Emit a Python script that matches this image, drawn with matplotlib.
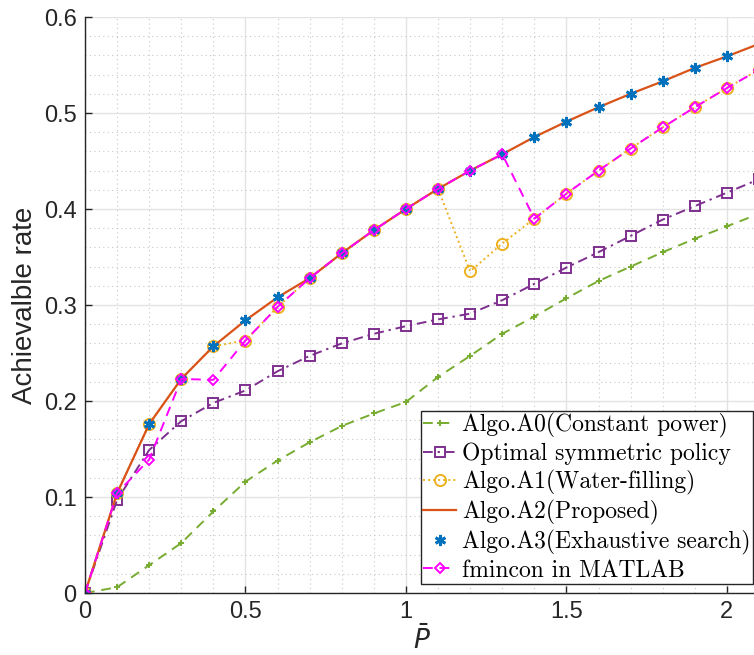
import matplotlib
matplotlib.use("Agg")
import matplotlib.pyplot as plt
from matplotlib.ticker import MultipleLocator
import numpy as np

# transmit power budget
p_bar = [0.0, 0.1, 0.2, 0.3, 0.4, 0.5, 0.6, 0.7, 0.8, 0.9, 1.0,
         1.1, 1.2, 1.3, 1.4, 1.5, 1.6, 1.7, 1.8, 1.9, 2.0, 2.1]

rate_a0 = [0.000, 0.006, 0.029, 0.052, 0.085, 0.116, 0.138, 0.157, 0.174, 0.187, 0.199,
           0.225, 0.247, 0.270, 0.288, 0.307, 0.325, 0.340, 0.355, 0.369, 0.382, 0.395]
rate_sym = [0.000, 0.097, 0.149, 0.179, 0.198, 0.211, 0.231, 0.247, 0.260, 0.270, 0.278,
            0.285, 0.291, 0.305, 0.322, 0.339, 0.355, 0.372, 0.389, 0.403, 0.417, 0.431]
rate_a1 = [0.000, 0.104, 0.176, 0.223, 0.257, 0.263, 0.298, 0.328, 0.354, 0.378, 0.400,
           0.421, 0.335, 0.364, 0.390, 0.416, 0.440, 0.463, 0.485, 0.506, 0.526, 0.545]
rate_a2 = [0.000, 0.104, 0.176, 0.223, 0.257, 0.284, 0.308, 0.328, 0.354, 0.378, 0.400,
           0.421, 0.440, 0.457, 0.475, 0.491, 0.506, 0.520, 0.533, 0.547, 0.559, 0.572]
rate_a3 = rate_a2
rate_fmin = [0.000, 0.104, 0.139, 0.223, 0.222, 0.263, 0.298, 0.328, 0.354, 0.378, 0.400,
             0.421, 0.440, 0.457, 0.390, 0.416, 0.440, 0.463, 0.485, 0.506, 0.526, 0.545]

labels = [
    "Algo.A0(Constant power)",
    "Optimal symmetric policy",
    "Algo.A1(Water-filling)",
    "Algo.A2(Proposed)",
    "Algo.A3(Exhaustive search)",
    "fmincon in MATLAB",
]

W, H = 754, 655
fig = plt.figure(figsize=(W / 100, H / 100), dpi=100)
ax = fig.add_axes([85 / W, (H - 593) / H, (759 - 85) / W, (593 - 17) / H])

ax.plot(p_bar, rate_a0, color="#77AC30", ls=(0, (5, 3.5)), lw=1.4, marker="+",
        ms=5, mew=1.4, label=labels[0])
ax.plot(p_bar, rate_sym, color="#7E2F8E", ls=(0, (5, 2.5, 1.2, 2.5)), lw=1.4,
        marker="s", ms=7, mfc="none", mew=1.4, label=labels[1])
ax.plot(p_bar, rate_a1, color="#EDB120", ls=(0, (1, 1.6)), lw=1.4, marker="o",
        ms=8, mfc="none", mew=1.4, label=labels[2])
ax.plot(p_bar, rate_a2, color="#D95319", ls="-", lw=1.6, label=labels[3])
ax.plot(p_bar, rate_a3, color="#0072BD", ls="none", marker=(6, 2, 0),
        ms=8, mew=2.0, label=labels[4])
ax.plot(p_bar, rate_fmin, color="#FF00FF", ls=(0, (5, 3.5)), lw=1.4, marker="D",
        ms=5, mfc="none", mew=1.4, label=labels[5])

ax.set_xlim(0, 2.1)
ax.set_ylim(0, 0.6)
ax.xaxis.set_minor_locator(MultipleLocator(0.1))
ax.yaxis.set_minor_locator(MultipleLocator(0.02))
ax.set_xticks([0, 0.5, 1, 1.5, 2], ["0", "0.5", "1", "1.5", "2"])
ax.set_yticks([0, 0.1, 0.2, 0.3, 0.4, 0.5, 0.6],
              ["0", "0.1", "0.2", "0.3", "0.4", "0.5", "0.6"])

ax.grid(which="major", color="#e3e3e3", lw=1.0, ls="-")
ax.grid(which="minor", color="#c8c8c8", lw=0.8, ls=(0, (1, 3)))
ax.set_axisbelow(True)

for s in ["top", "right"]:
    ax.spines[s].set_visible(False)
for s in ["left", "bottom"]:
    ax.spines[s].set_color("#262626")
    ax.spines[s].set_linewidth(1.0)
ax.tick_params(which="major", direction="in", length=5, width=1.0,
               color="#262626", labelsize=17, labelcolor="#262626", pad=6)
ax.tick_params(which="minor", length=0)
for t in ax.get_xticklabels() + ax.get_yticklabels():
    t.set_family("Liberation Sans")

ax.set_xlabel(r"$\bar{P}$", fontsize=19, color="#262626", labelpad=2)
ax.set_ylabel("Achievalble rate", fontsize=20, family="Liberation Sans",
              color="#262626", labelpad=4)

leg = ax.legend(loc="lower right", bbox_to_anchor=(753 / W, (H - 584) / H),
                bbox_transform=fig.transFigure, borderaxespad=0,
                prop={"family": "cmr10", "size": 17}, frameon=True,
                fancybox=False, edgecolor="#262626", framealpha=1,
                handlelength=1.4, handletextpad=0.25, labelspacing=0.2,
                borderpad=0.1)
leg.get_frame().set_linewidth(1.0)

fig.savefig("out.png", dpi=100)
